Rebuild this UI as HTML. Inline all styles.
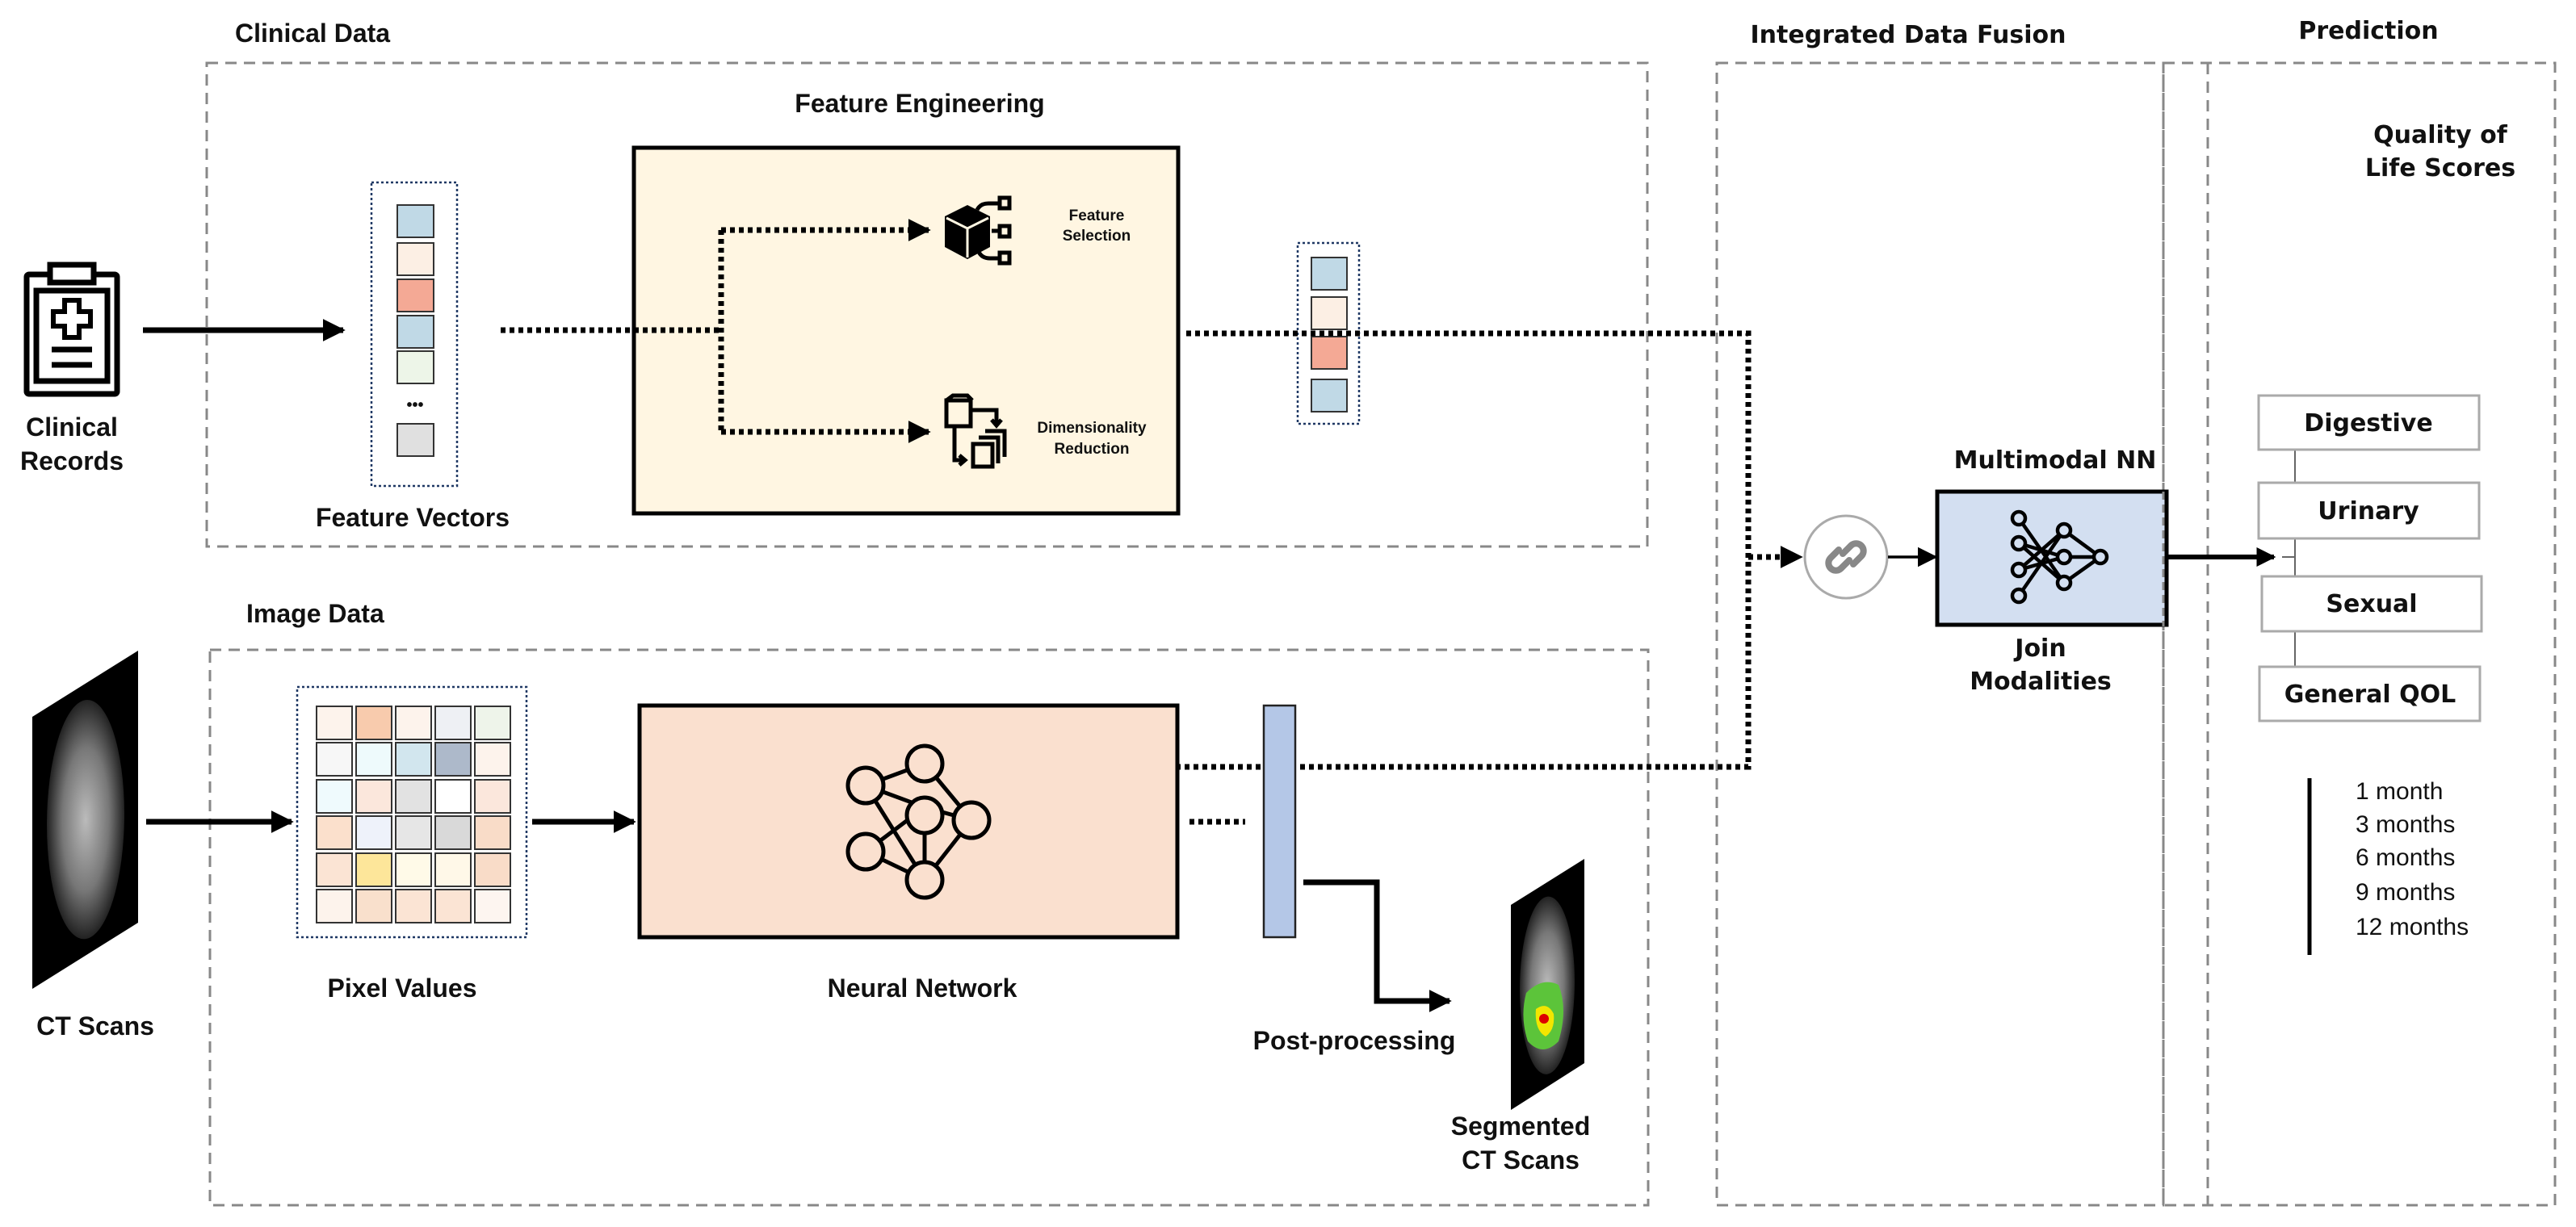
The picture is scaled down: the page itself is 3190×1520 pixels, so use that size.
<!DOCTYPE html>
<html><head><meta charset="utf-8"><style>
html,body{margin:0;padding:0;background:#fff;}
svg{display:block;}
text{font-family:"Liberation Sans","DejaVu Sans",sans-serif;font-weight:bold;fill:#111;}
.w{font-family:"DejaVu Sans","Liberation Sans",sans-serif;}
</style></head><body>
<svg width="3190" height="1520" viewBox="0 0 3190 1520" xmlns="http://www.w3.org/2000/svg">
<defs>
<marker id="ah" viewBox="0 0 10 10" refX="9" refY="5" markerWidth="4" markerHeight="4" orient="auto"><path d="M0,0 L10,5 L0,10 z" fill="#000"/></marker>
<marker id="ah2" viewBox="0 0 10 10" refX="9" refY="5" markerWidth="7" markerHeight="7" orient="auto"><path d="M0,0 L10,5 L0,10 z" fill="#000"/></marker>
<radialGradient id="brain" cx="50%" cy="50%" r="50%"><stop offset="0" stop-color="#bbb"/><stop offset="0.6" stop-color="#777"/><stop offset="1" stop-color="#222"/></radialGradient>
</defs>

<g fill="none" stroke="#888" stroke-width="3" stroke-dasharray="14,9">
<rect x="256" y="78" width="1784" height="599"/>
<rect x="260" y="805" width="1781" height="688"/>
<rect x="2126" y="78" width="553" height="1415"/>
<rect x="2679" y="78" width="485" height="1415"/>
<line x1="2734" y1="78" x2="2734" y2="1493"/>
</g>

<text x="291" y="52" font-size="32">Clinical Data</text>
<text x="305" y="771" font-size="32">Image Data</text>
<text x="2363" y="53" font-size="30" text-anchor="middle" class="w">Integrated Data Fusion</text>
<text x="2933" y="48" font-size="30" text-anchor="middle" class="w">Prediction</text>

<g fill="none" stroke="#000" stroke-width="7" transform="translate(0,102)">
<rect x="33" y="238" width="112" height="148" rx="3"/>
<rect x="62" y="226" width="54" height="22" fill="#fff"/>
<rect x="45" y="258" width="88" height="112"/>
<path d="M80,270 h18 v14 h14 v18 h-14 v14 h-18 v-14 h-14 v-18 h14 z" stroke-width="6"/>
<line x1="64" y1="331" x2="114" y2="331"/>
<line x1="64" y1="350" x2="114" y2="350"/>
</g>
<text x="89" y="540" font-size="32" text-anchor="middle">Clinical</text>
<text x="89" y="582" font-size="32" text-anchor="middle">Records</text>
<line x1="177" y1="409" x2="425" y2="409" stroke="#000" stroke-width="7" marker-end="url(#ah)"/>

<rect x="460" y="226" width="106" height="376" fill="none" stroke="#1f3864" stroke-width="2.5" stroke-dasharray="3,3"/>
<g stroke="#333" stroke-width="2">
<rect x="492" y="254" width="45" height="40" fill="#c0d9e6"/>
<rect x="492" y="301" width="45" height="40" fill="#fcefe4"/>
<rect x="492" y="346" width="45" height="40" fill="#f4a995"/>
<rect x="492" y="391" width="45" height="40" fill="#c0d9e6"/>
<rect x="492" y="435" width="45" height="40" fill="#edf5e8"/>
<rect x="492" y="525" width="45" height="40" fill="#e0e0e0"/>
</g>
<text x="514" y="508" font-size="20" text-anchor="middle">•••</text>
<text x="511" y="652" font-size="32" text-anchor="middle">Feature Vectors</text>

<text x="1139" y="139" font-size="32" text-anchor="middle">Feature Engineering</text>
<rect x="785" y="183" width="674" height="453" fill="#fff6e2" stroke="#000" stroke-width="5"/>
<g fill="none" stroke="#000" stroke-width="7" stroke-dasharray="6,5">
<line x1="620" y1="409" x2="893" y2="409"/>
<path d="M893,285 V538"/>
<line x1="893" y1="285" x2="1150" y2="285" marker-end="url(#ah)"/>
<line x1="893" y1="535" x2="1150" y2="535" marker-end="url(#ah)"/>
</g>
<g>
<path d="M1170,268 L1198,254 L1226,268 L1226,306 L1198,321 L1170,306 Z" fill="#000"/>
<path d="M1172,270 L1198,283 L1224,270 M1198,283 V319" stroke="#fff6e2" stroke-width="3" fill="none"/>
<g fill="none" stroke="#000" stroke-width="5">
<path d="M1210,260 q4,-8 14,-8 h14"/><rect x="1238" y="245" width="12" height="13"/>
<path d="M1228,286 h10"/><rect x="1238" y="280" width="12" height="13"/>
<path d="M1212,312 q4,8 14,8 h12"/><rect x="1238" y="313" width="12" height="13"/>
</g>
</g>
<text x="1358" y="273" font-size="19" text-anchor="middle">Feature</text>
<text x="1358" y="298" font-size="19" text-anchor="middle">Selection</text>
<g fill="none" stroke="#000" stroke-width="5">
<rect x="1172" y="496" width="30" height="32"/>
<path d="M1172,496 l8,-6 h18 l6,6"/>
<path d="M1204,508 h30 v16 M1228,520 l6,7 l6,-7"/>
<path d="M1182,530 v40 h12 M1188,564 l7,6 l-7,6"/>
<rect x="1205" y="550" width="24" height="28"/>
<path d="M1212,542 h24 v32 M1220,534 h24 v32"/>
</g>
<text x="1352" y="536" font-size="19" text-anchor="middle">Dimensionality</text>
<text x="1352" y="562" font-size="19" text-anchor="middle">Reduction</text>

<rect x="1607" y="301" width="76" height="224" fill="none" stroke="#1f3864" stroke-width="2.5" stroke-dasharray="3,3"/>
<g stroke="#333" stroke-width="2">
<rect x="1624" y="319" width="44" height="40" fill="#c0d9e6"/>
<rect x="1624" y="368" width="44" height="40" fill="#fcefe4"/>
<rect x="1624" y="417" width="44" height="40" fill="#f4a995"/>
<rect x="1624" y="470" width="44" height="40" fill="#c0d9e6"/>
</g>

<g fill="none" stroke="#000" stroke-width="7" stroke-dasharray="6,5">
<path d="M1469,413 H2165 V950 H1458"/>
<line x1="2165" y1="690" x2="2230" y2="690" marker-end="url(#ah)"/>
<line x1="1473" y1="1018" x2="1542" y2="1018"/>
</g>

<polygon points="40,888 171,806 171,1143 40,1225" fill="#000"/>
<ellipse cx="106" cy="1016" rx="48" ry="148" fill="url(#brain)" transform="skewY(-8) translate(0,14)"/>
<text x="118" y="1282" font-size="32" text-anchor="middle">CT Scans</text>
<line x1="181" y1="1018" x2="361" y2="1018" stroke="#000" stroke-width="7" marker-end="url(#ah)"/>

<rect x="368" y="851" width="284" height="310" fill="none" stroke="#1f3864" stroke-width="2.5" stroke-dasharray="3,3"/>
<g stroke="#333" stroke-width="2">
<rect x="392" y="875" width="44" height="41" fill="#fdf3ec"/><rect x="441" y="875" width="44" height="41" fill="#f8cbad"/><rect x="490" y="875" width="44" height="41" fill="#fdf3ec"/><rect x="539" y="875" width="44" height="41" fill="#eef0f4"/><rect x="588" y="875" width="44" height="41" fill="#eef4ea"/>
<rect x="392" y="920" width="44" height="41" fill="#f7f7f7"/><rect x="441" y="920" width="44" height="41" fill="#eefafc"/><rect x="490" y="920" width="44" height="41" fill="#d2e6ee"/><rect x="539" y="920" width="44" height="41" fill="#adb9ca"/><rect x="588" y="920" width="44" height="41" fill="#fdf3ec"/>
<rect x="392" y="966" width="44" height="41" fill="#effafd"/><rect x="441" y="966" width="44" height="41" fill="#fbe7dc"/><rect x="490" y="966" width="44" height="41" fill="#e2e2e2"/><rect x="539" y="966" width="44" height="41" fill="#ffffff"/><rect x="588" y="966" width="44" height="41" fill="#fbe7dc"/>
<rect x="392" y="1011" width="44" height="41" fill="#fbe0cc"/><rect x="441" y="1011" width="44" height="41" fill="#eef2fa"/><rect x="490" y="1011" width="44" height="41" fill="#e6e6e6"/><rect x="539" y="1011" width="44" height="41" fill="#d9d9d9"/><rect x="588" y="1011" width="44" height="41" fill="#f9dcc8"/>
<rect x="392" y="1057" width="44" height="41" fill="#fbe4d4"/><rect x="441" y="1057" width="44" height="41" fill="#fde69a"/><rect x="490" y="1057" width="44" height="41" fill="#fffae8"/><rect x="539" y="1057" width="44" height="41" fill="#fff8e8"/><rect x="588" y="1057" width="44" height="41" fill="#f9dcc8"/>
<rect x="392" y="1102" width="44" height="41" fill="#fdf3ec"/><rect x="441" y="1102" width="44" height="41" fill="#f9e0cc"/><rect x="490" y="1102" width="44" height="41" fill="#fbe4d4"/><rect x="539" y="1102" width="44" height="41" fill="#fbe4d4"/><rect x="588" y="1102" width="44" height="41" fill="#fdf5f0"/>
</g>
<text x="498" y="1235" font-size="32" text-anchor="middle">Pixel Values</text>
<line x1="659" y1="1018" x2="785" y2="1018" stroke="#000" stroke-width="7" marker-end="url(#ah)"/>

<rect x="792" y="874" width="666" height="287" fill="#fae0cf" stroke="#000" stroke-width="5"/>
<g fill="none" stroke="#000" stroke-width="5">
<line x1="1145" y1="946" x2="1072" y2="973"/><line x1="1145" y1="946" x2="1203" y2="1016"/>
<line x1="1072" y1="973" x2="1145" y2="1000"/><line x1="1072" y1="973" x2="1145" y2="1090"/>
<line x1="1072" y1="1055" x2="1145" y2="1000"/><line x1="1072" y1="1055" x2="1145" y2="1090"/>
<line x1="1145" y1="1000" x2="1203" y2="1016"/><line x1="1145" y1="1000" x2="1145" y2="1090"/>
<line x1="1145" y1="1090" x2="1203" y2="1016"/>
<g fill="#fae0cf">
<circle cx="1145" cy="946" r="22"/><circle cx="1072" cy="973" r="22"/><circle cx="1145" cy="1010" r="22"/>
<circle cx="1203" cy="1016" r="22"/><circle cx="1072" cy="1055" r="22"/><circle cx="1145" cy="1090" r="22"/>
</g>
</g>
<text x="1142" y="1235" font-size="32" text-anchor="middle">Neural Network</text>

<rect x="1565" y="874" width="39" height="287" fill="#b4c7e7" stroke="#222" stroke-width="2.5"/>
<path d="M1614,1093 H1705 V1240 H1795" fill="none" stroke="#000" stroke-width="7" marker-end="url(#ah)"/>
<text x="1677" y="1300" font-size="32" text-anchor="middle">Post-processing</text>

<polygon points="1871,1121 1962,1064 1962,1317 1871,1375" fill="#000"/>
<ellipse cx="1916" cy="1220" rx="34" ry="110" fill="url(#brain)" transform="skewY(-8) translate(0,270)"/>
<path d="M1890,1230 q20,-20 40,-10 q12,30 0,70 q-20,20 -38,0 q-10,-30 -2,-60z" fill="#5cc43a"/>
<path d="M1902,1250 q14,-10 22,6 q2,20 -10,28 q-14,-8 -12,-34z" fill="#f2e600"/>
<circle cx="1912" cy="1262" r="6" fill="#d00"/>
<text x="1883" y="1406" font-size="32" text-anchor="middle">Segmented</text>
<text x="1883" y="1448" font-size="32" text-anchor="middle">CT Scans</text>

<circle cx="2286" cy="690" r="51" fill="#fff" stroke="#aaa" stroke-width="3"/>
<g fill="none" stroke="#888" stroke-width="8" stroke-linecap="round">
<path d="M2282,686 l10,-10 a9,9 0 0 1 13,13 l-10,10"/>
<path d="M2290,694 l-10,10 a9,9 0 0 1 -13,-13 l10,-10"/>
</g>
<line x1="2338" y1="690" x2="2397" y2="690" stroke="#000" stroke-width="3.5" marker-end="url(#ah2)"/>
<text x="2545" y="580" font-size="30" text-anchor="middle" class="w">Multimodal NN</text>
<rect x="2399" y="609" width="284" height="165" fill="#d3dff1" stroke="#000" stroke-width="5"/>
<line x1="2679" y1="609" x2="2679" y2="776" stroke="#888" stroke-width="3" stroke-dasharray="10,6"/>
<g fill="none" stroke="#000" stroke-width="4.5">
<path d="M2500,642 L2556,722 M2500,673 L2556,722 M2500,706 L2556,657 M2500,738 L2556,657 M2500,673 L2556,690 M2500,706 L2556,690 M2556,657 L2601,690 M2556,690 L2601,690 M2556,722 L2601,690"/>
<g fill="#d3dff1">
<circle cx="2500" cy="642" r="8"/><circle cx="2500" cy="673" r="8"/><circle cx="2500" cy="706" r="8"/><circle cx="2500" cy="738" r="8"/>
<circle cx="2556" cy="657" r="8"/><circle cx="2556" cy="690" r="8"/><circle cx="2556" cy="722" r="8"/><circle cx="2601" cy="690" r="8"/>
</g>
</g>
<text x="2527" y="813" font-size="30" text-anchor="middle" class="w">Join</text>
<text x="2527" y="854" font-size="30" text-anchor="middle" class="w">Modalities</text>
<line x1="2684" y1="690" x2="2816" y2="690" stroke="#000" stroke-width="6" marker-end="url(#ah)"/>

<text x="3022" y="177" font-size="30" text-anchor="middle" class="w">Quality of</text>
<text x="3022" y="218" font-size="30" text-anchor="middle" class="w">Life Scores</text>
<line x1="2842" y1="557" x2="2842" y2="826" stroke="#666" stroke-width="2"/>
<line x1="2826" y1="690" x2="2842" y2="690" stroke="#666" stroke-width="2"/>
<g fill="#fff" stroke="#aaa" stroke-width="3">
<rect x="2797" y="490" width="273" height="67"/>
<rect x="2797" y="598" width="273" height="69"/>
<rect x="2801" y="714" width="272" height="68"/>
<rect x="2798" y="826" width="273" height="67"/>
</g>
<text x="2933" y="534" font-size="30" text-anchor="middle" class="w">Digestive</text>
<text x="2933" y="643" font-size="30" text-anchor="middle" class="w">Urinary</text>
<text x="2937" y="758" font-size="30" text-anchor="middle" class="w">Sexual</text>
<text x="2935" y="870" font-size="30" text-anchor="middle" class="w">General QOL</text>
<line x1="2860" y1="964" x2="2860" y2="1183" stroke="#000" stroke-width="5"/>
<g font-size="30" class="w">
<text x="2917" y="990" style="font-weight:normal">1 month</text>
<text x="2917" y="1031" style="font-weight:normal">3 months</text>
<text x="2917" y="1072" style="font-weight:normal">6 months</text>
<text x="2917" y="1115" style="font-weight:normal">9 months</text>
<text x="2917" y="1158" style="font-weight:normal">12 months</text>
</g>
</svg>
</body></html>
